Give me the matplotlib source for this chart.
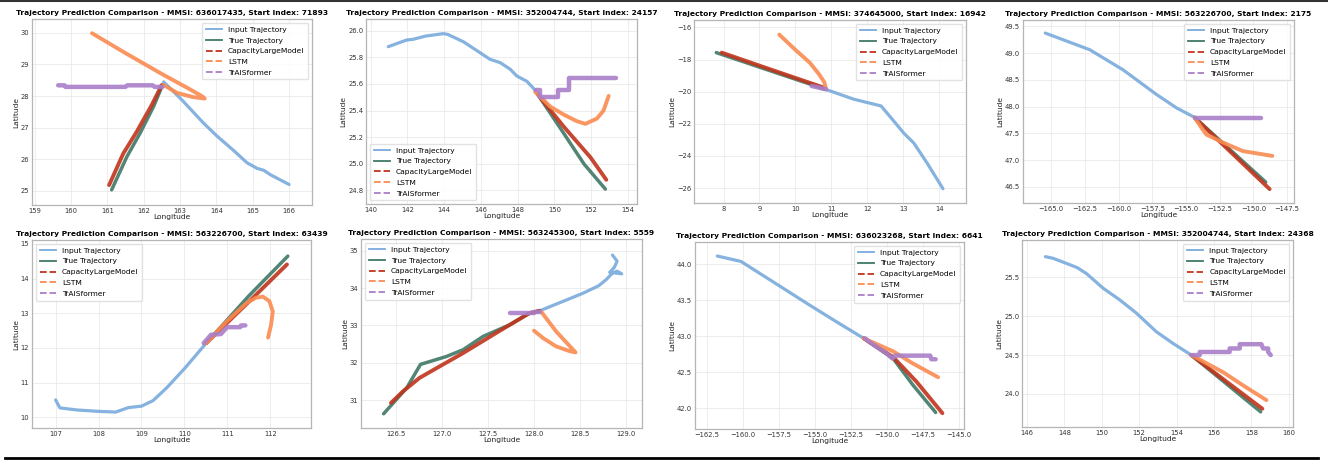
import matplotlib

matplotlib.use("Agg")

import matplotlib.pyplot as plt
from matplotlib.lines import Line2D

# ---- data: (longitude, latitude) ----
titles_mmsi = ["636017435", "352004744", "374645000", "563226700",
               "563226700", "563245300", "636023268", "352004744"]
titles_start = [71893, 24157, 16942, 2175, 63439, 5559, 6641, 24368]

p1_input = [(166.0, 25.2), (165.5, 25.5), (165.3, 25.65), (165.12, 25.71), (164.84, 25.89),
            (164.5, 26.25), (164.0, 26.75), (163.65, 27.14), (163.05, 27.88), (162.55, 28.45)]
p1_true = [(162.52, 28.35), (162.27, 27.66), (161.9, 26.82), (161.54, 26.08), (161.12, 25.03)]
p1_cap = [(162.5, 28.35), (162.22, 27.71), (161.81, 26.87), (161.44, 26.18), (161.05, 25.18)]
p1_lstm = [(162.55, 28.35), (162.92, 28.1), (163.35, 27.97), (163.68, 27.92), (163.6, 28.0),
           (163.2, 28.26), (162.5, 28.7), (161.5, 29.36), (160.58, 29.99)]
p1_trais = [(159.65, 28.34), (159.82, 28.34), (159.85, 28.29), (161.5, 28.29), (161.55, 28.34),
            (162.25, 28.34), (162.3, 28.29), (162.52, 28.29)]

p2_input = [(140.96, 25.88), (141.96, 25.93), (142.3, 25.935), (143.0, 25.96), (143.96, 25.978),
            (144.2, 25.972), (145.05, 25.917), (145.95, 25.835), (146.5, 25.785), (147.05, 25.76),
            (147.6, 25.71), (147.95, 25.66), (148.5, 25.62), (148.86, 25.567), (149.13, 25.516)]
p2_true = [(149.1, 25.52), (150.5, 25.23), (151.6, 25.0), (152.77, 24.81)]
p2_cap = [(149.1, 25.52), (150.5, 25.28), (151.95, 25.05), (152.82, 24.88)]
p2_lstm = [(148.95, 25.54), (149.77, 25.43), (150.5, 25.37), (151.22, 25.32), (151.68, 25.30),
           (152.31, 25.34), (152.67, 25.40), (152.95, 25.51)]
p2_trais = [(149.0, 25.555), (149.2, 25.555), (149.2, 25.50), (150.17, 25.50), (150.17, 25.555),
            (150.77, 25.555), (150.77, 25.644), (153.35, 25.644)]

p3_input = [(14.1, -26.04), (13.66, -24.45), (13.29, -23.2), (13.01, -22.58), (12.78, -21.96),
            (12.38, -20.89), (11.62, -20.47), (10.83, -19.85)]
p3_true = [(10.83, -19.85), (9.3, -18.7), (7.8, -17.57)]
p3_cap = [(10.75, -19.72), (9.35, -18.65), (7.95, -17.57)]
p3_lstm = [(10.85, -19.85), (10.8, -19.4), (10.65, -18.9), (10.4, -18.2), (10.0, -17.4), (9.55, -16.45)]
p3_trais = [(10.85, -19.85), (10.7, -19.78), (10.6, -19.72), (10.45, -19.65)]

p4_input = [(-165.45, 49.376), (-162.15, 49.065), (-159.68, 48.69), (-157.2, 48.23),
            (-155.72, 47.98), (-154.36, 47.8)]
p4_true = [(-154.36, 47.8), (-151.7, 47.19), (-149.08, 46.59)]
p4_cap = [(-154.3, 47.78), (-151.5, 47.11), (-148.79, 46.46)]
p4_lstm = [(-154.36, 47.8), (-154.23, 47.75), (-153.86, 47.61), (-153.49, 47.48), (-152.25, 47.33),
           (-150.77, 47.17), (-148.59, 47.08)]
p4_trais = [(-154.3, 47.78), (-149.4, 47.78)]

p5_input = [(107.0, 10.5), (107.1, 10.27), (107.5, 10.21), (108.0, 10.17), (108.4, 10.15),
            (108.7, 10.28), (109.0, 10.32), (109.27, 10.48), (109.58, 10.84), (110.0, 11.4),
            (110.51, 12.14)]
p5_true = [(110.51, 12.14), (111.5, 13.5), (112.41, 14.65)]
p5_cap = [(110.51, 12.14), (111.5, 13.33), (112.39, 14.41)]
p5_lstm = [(110.51, 12.14), (110.98, 12.76), (111.44, 13.29), (111.67, 13.45), (111.83, 13.48),
           (111.98, 13.35), (112.06, 13.05), (112.02, 12.67), (111.95, 12.3)]
p5_trais = [(110.45, 12.14), (110.55, 12.28), (110.62, 12.38), (110.85, 12.4), (110.92, 12.5),
            (111.0, 12.6), (111.3, 12.6), (111.32, 12.65), (111.42, 12.65)]

p6_input = [(128.85, 34.88), (128.9, 34.72), (128.87, 34.55), (128.82, 34.42), (128.95, 34.38),
            (128.9, 34.45), (128.85, 34.4), (128.78, 34.22), (128.7, 34.06), (128.53, 33.86),
            (128.31, 33.64), (128.06, 33.39)]
p6_true = [(128.06, 33.39), (127.95, 33.33), (127.74, 33.02), (127.45, 32.71), (127.23, 32.35),
           (127.05, 32.17), (126.77, 31.96), (126.62, 31.33), (126.37, 30.64)]
p6_cap = [(128.06, 33.39), (127.95, 33.33), (127.59, 32.8), (127.23, 32.26), (126.98, 31.91),
          (126.76, 31.6), (126.58, 31.24), (126.45, 30.93)]
p6_lstm = [(128.08, 33.36), (128.24, 32.84), (128.39, 32.44), (128.45, 32.28), (128.39, 32.31),
           (128.24, 32.44), (128.1, 32.66), (128.0, 32.86)]
p6_trais = [(127.74, 33.33), (128.0, 33.33), (128.0, 33.37), (128.06, 33.37)]

p7_input = [(-161.76, 44.115), (-160.12, 44.04), (-157.88, 43.755), (-155.33, 43.43),
            (-153.48, 43.2), (-151.59, 42.97)]
p7_true = [(-151.59, 42.97), (-149.55, 42.69), (-148.17, 42.32), (-146.6, 41.94)]
p7_cap = [(-151.59, 42.97), (-149.55, 42.71), (-147.94, 42.37), (-146.13, 41.93)]
p7_lstm = [(-151.59, 42.97), (-149.55, 42.79), (-148.17, 42.62), (-146.43, 42.43)]
p7_trais = [(-151.5, 42.97), (-151.2, 42.92), (-150.9, 42.88), (-150.6, 42.84), (-150.3, 42.8),
            (-150.0, 42.76), (-149.6, 42.69), (-149.4, 42.73), (-146.97, 42.73), (-146.9, 42.68),
            (-146.6, 42.68)]

p8_input = [(146.98, 25.766), (147.39, 25.745), (148.1, 25.68), (148.68, 25.625), (149.17, 25.55),
            (150.07, 25.36), (150.96, 25.21), (151.85, 25.04), (152.92, 24.80), (153.81, 24.65),
            (154.79, 24.5)]
p8_true = [(154.79, 24.5), (158.5, 23.77)]
p8_cap = [(154.79, 24.5), (158.59, 23.81)]
p8_lstm = [(154.79, 24.5), (156.49, 24.28), (157.56, 24.11), (158.81, 23.92)]
p8_trais = [(154.79, 24.5), (155.24, 24.5), (155.24, 24.54), (156.84, 24.54), (156.84, 24.585),
            (157.38, 24.585), (157.38, 24.64), (158.54, 24.64), (158.63, 24.585), (158.9, 24.585),
            (158.9, 24.54), (159.04, 24.5)]

panels = [
    (p1_input, p1_true, p1_cap, p1_lstm, p1_trais),
    (p2_input, p2_true, p2_cap, p2_lstm, p2_trais),
    (p3_input, p3_true, p3_cap, p3_lstm, p3_trais),
    (p4_input, p4_true, p4_cap, p4_lstm, p4_trais),
    (p5_input, p5_true, p5_cap, p5_lstm, p5_trais),
    (p6_input, p6_true, p6_cap, p6_lstm, p6_trais),
    (p7_input, p7_true, p7_cap, p7_lstm, p7_trais),
    (p8_input, p8_true, p8_cap, p8_lstm, p8_trais),
]

x_limits = [(158.93, 166.63), (139.75, 154.49), (7.18, 14.74), (-167.1, -146.98),
            (106.45, 112.95), (126.125, 129.17), (-163.31, -144.63), (145.73, 160.23)]
y_limits = [(24.55, 30.44), (24.698, 26.088), (-26.93, -15.54), (46.2, 49.62),
            (9.69, 15.115), (30.26, 35.31), (41.71, 44.31), (23.575, 25.98)]
legend_locs = ["upper right", "lower left", "upper right", "upper right",
               "upper left", "upper left", "upper right", "upper right"]

series_names = ["Input Trajectory", "True Trajectory", "CapacityLargeModel", "LSTM", "TrAISformer"]
series_colors = ["#78aadc", "#3f7866", "#c0341d", "#f98b50", "#a97fc8"]
series_styles = ["-", "-", "--", "--", "--"]
series_widths = [2.3, 2.5, 2.8, 2.8, 3.2]

# axes rectangles in figure pixels (left, top, right, bottom) on a 1328x461 canvas
W, H = 1328, 461
boxes = [(32, 19, 312, 205), (366, 19, 637, 204), (694, 20, 966, 203), (1023, 20, 1294, 203),
         (32, 240, 311, 428), (361, 239, 642, 428), (695, 242, 964, 429), (1022, 240, 1293, 427)]

fig = plt.figure(figsize=(W / 100, H / 100), dpi=100)

for i, series in enumerate(panels):
    l, t, r, b = boxes[i]
    ax = fig.add_axes([l / W, (H - b) / H, (r - l) / W, (b - t) / H])
    for k, pts in enumerate(series):
        xs = [p[0] for p in pts]
        ys = [p[1] for p in pts]
        ax.plot(xs, ys, color=series_colors[k], linewidth=series_widths[k],
                alpha=0.9, solid_capstyle="round", solid_joinstyle="round")
    ax.set_xlim(*x_limits[i])
    ax.set_ylim(*y_limits[i])
    ax.set_title(f"Trajectory Prediction Comparison - MMSI: {titles_mmsi[i]}, "
                 f"Start Index: {titles_start[i]}",
                 fontsize=5.4, fontweight="bold", pad=3)
    ax.set_xlabel("Longitude", fontsize=5.4, labelpad=0.5, color="#222222")
    ax.set_ylabel("Latitude", fontsize=5.4, labelpad=1, color="#222222")
    ax.tick_params(labelsize=4.9, length=0, pad=2, colors="#333333")
    ax.grid(True, color="#e6e6e6", linewidth=0.5)
    ax.set_axisbelow(True)
    for sp in ax.spines.values():
        sp.set_color("#b5b5b5")
        sp.set_linewidth(0.9)
    handles = [Line2D([0], [0], color=series_colors[k], linestyle=series_styles[k],
                      linewidth=1.3) for k in range(5)]
    ax.legend(handles, series_names, loc=legend_locs[i], fontsize=5.4,
              frameon=True, framealpha=0.85, edgecolor="#dddddd",
              borderpad=0.5, labelspacing=0.6, handlelength=2.2, handletextpad=0.8)

# rules framing the figure
fig.add_artist(Line2D([0, 1], [1 - 1 / H, 1 - 1 / H], color="#333333", linewidth=1.5,
                      transform=fig.transFigure))
fig.add_artist(Line2D([5 / W, 1318 / W], [1 - 458 / H, 1 - 458 / H], color="black",
                      linewidth=2.0, transform=fig.transFigure))

fig.savefig("out.png", dpi=100)
plt.close(fig)
